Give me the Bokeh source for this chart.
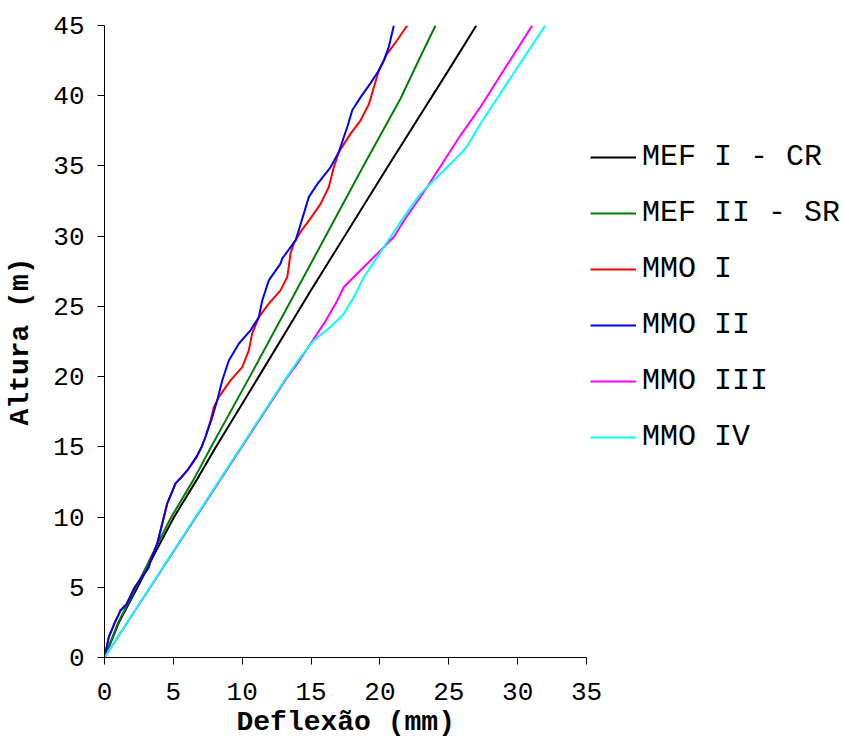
from bokeh.plotting import figure
from bokeh.models import Range1d, Legend, LegendItem, FixedTicker, Title
from bokeh.embed import file_html
from bokeh.resources import INLINE

# ---- data ----
x_ticks = [0, 5, 10, 15, 20, 25, 30, 35]
y_ticks = [0, 5, 10, 15, 20, 25, 30, 35, 40, 45]

mef1_y = [0, 2.5, 5, 7.5, 10, 12.7, 15, 20, 26.1, 29, 35, 42, 45]
mef1_x = [0, 1.05, 2.4, 3.7, 5.05, 6.73, 8.1, 11.2, 14.96, 16.8, 20.6, 25.1, 27.0]

mef2_y = [0, 2.5, 5, 7.5, 10, 12.7, 15, 20, 28, 35, 39.8, 42.6, 45]
mef2_x = [0, 1.0, 2.3, 3.55, 4.85, 6.49, 7.75, 10.55, 14.96, 18.8, 21.5, 22.85, 24.04]

mmo2_y = [0, 1.45, 2.6, 3.0, 3.35, 3.8, 5.0, 6.4, 6.9, 8.1, 10.95, 12.4, 12.8, 13.3,
          13.8, 14.3, 15.0, 15.7, 17.1, 18.3, 19.73, 21.15, 22.34, 23.29, 24.24, 25.4,
          26.85, 28.04, 28.4, 29.2, 29.7, 30.4, 31.6, 32.8, 33.7, 34.9, 36.0, 37.06,
          37.77, 38.96, 39.9, 40.9, 41.8, 42.5, 43.5, 45]
mmo2_x = [0, 0.31, 0.8, 1.0, 1.16, 1.6, 2.2, 3.2, 3.34, 3.83, 4.55, 5.16, 5.55, 6.0,
          6.35, 6.7, 7.05, 7.33, 7.82, 8.18, 8.55, 9.03, 9.75, 10.6, 11.21, 11.45,
          11.93, 12.78, 12.9, 13.5, 13.87, 14.1, 14.47, 14.84, 15.45, 16.41, 17.02, 17.38,
          17.63, 17.99, 18.6, 19.32, 19.92, 20.28, 20.65, 21.01]

mmo1_y = [0, 1.45, 2.6, 3.0, 3.35, 3.8, 5.0, 6.4, 6.9, 8.1, 10.95, 12.4, 12.8, 13.3,
          13.8, 14.3, 15.0, 15.7, 16.88, 17.83, 18.54, 19.73, 20.68, 21.87, 23.06,
          24.24, 25.2, 26.14, 27.09, 28.4, 28.75, 29.5, 30.3, 31.1, 32.3, 33.5, 34.9,
          36.0, 37.3, 38.25, 39.4, 40.6, 41.8, 43.0, 43.95, 45]
mmo1_x = [0, 0.31, 0.8, 1.0, 1.16, 1.6, 2.2, 3.2, 3.34, 3.83, 4.55, 5.16, 5.55, 6.0,
          6.35, 6.7, 7.05, 7.33, 7.7, 7.94, 8.3, 9.15, 10.0, 10.48, 10.72,
          11.21, 11.93, 12.78, 13.27, 13.46, 13.5, 13.75, 14.23, 14.84, 15.69, 16.29, 16.65,
          17.02, 17.87, 18.6, 19.2, 19.56, 19.92, 20.53, 21.25, 21.98]

mmo3_y = [0, 10, 19.85, 20.92, 22.34, 23.77, 25.19, 26.38, 27.09, 28.28, 29.22,
          29.94, 31.1, 33.5, 37.18, 39.2, 45]
mmo3_x = [0, 6.65, 13.2, 14.0, 14.96, 15.93, 16.78, 17.38, 18.1, 19.32, 20.28,
          21.01, 21.74, 23.43, 25.85, 27.3, 31.06]

mmo4_y = [0, 10, 19.85, 21.39, 22.58, 23.53, 24.48, 25.66, 27.09, 28.51, 29.94,
          31.37, 33.03, 33.74, 34.92, 35.88, 36.35, 38.0, 41.3, 45]
mmo4_x = [0, 6.6, 13.14, 14.23, 15.2, 16.41, 17.38, 18.1, 18.83, 19.8, 20.77,
          21.74, 22.95, 23.67, 24.89, 25.85, 26.3, 27.3, 29.5, 32.0]

series = [
    ("MEF I - CR", mef1_x, mef1_y, "#000000"),
    ("MEF II - SR", mef2_x, mef2_y, "#008000"),
    ("MMO I", mmo1_x, mmo1_y, "#FF0000"),
    ("MMO II", mmo2_x, mmo2_y, "#0000FF"),
    ("MMO III", mmo3_x, mmo3_y, "#FF00FF"),
    ("MMO IV", mmo4_x, mmo4_y, "#00FFFF"),
]

FONT = "Liberation Mono"
X_MIN, X_MAX = x_ticks[0], x_ticks[-1]
W, H = 843, 753
LEFT, TOP, BOTTOM = 104, 25, 96
FRAME_W = 482  # width of the 0..35 span
frame_total = W - LEFT
x_end = X_MAX * frame_total / FRAME_W  # extra room on the right holds the legend

p = figure(width=W, height=H, x_range=Range1d(X_MIN, x_end), y_range=Range1d(0, 45),
           output_backend="svg", toolbar_location=None,
           min_border_left=LEFT, min_border_right=0, min_border_top=TOP, min_border_bottom=BOTTOM)
p.outline_line_color = None
p.xgrid.visible = False
p.ygrid.visible = False
p.background_fill_color = "white"
p.border_fill_color = "white"

items = []
for name, xs, ys, col in series:
    r = p.line(xs, ys, line_color=col, line_width=2, line_join="round")
    items.append(LegendItem(label=name, renderers=[r]))

p.yaxis.axis_label = "Altura (m)"
p.xaxis.bounds = (X_MIN, X_MAX)

for ax, ticks, standoff, lstand in ((p.xaxis[0], x_ticks, 18, 9), (p.yaxis[0], y_ticks, 13, 14)):
    ax.ticker = FixedTicker(ticks=ticks)
    ax.minor_tick_line_color = None
    ax.major_tick_in = 0
    ax.major_tick_out = 7
    ax.major_tick_line_color = "black"
    ax.axis_line_color = "black"
    ax.major_label_text_font = FONT
    ax.major_label_text_font_size = "26px"
    ax.major_label_text_color = "black"
    ax.major_label_standoff = standoff
    ax.axis_label_text_font = FONT
    ax.axis_label_text_font_style = "bold"
    ax.axis_label_text_font_size = "28px"
    ax.axis_label_text_color = "black"
    ax.axis_label_standoff = lstand

# x-axis title, centred under the 0..35 span
xtitle = Title(text="Deflexão (mm)", align="left", offset=132,
               standoff=4, text_font=FONT, text_font_style="bold",
               text_font_size="28px", text_color="black")
p.add_layout(xtitle, "below")

legend = Legend(items=items, location=(486, 192))
legend.border_line_color = None
legend.background_fill_alpha = 0
legend.padding = 0
legend.margin = 0
legend.spacing = 0
legend.glyph_width = 46
legend.glyph_height = 56
legend.label_height = 56
legend.label_standoff = 6
legend.label_text_font = FONT
legend.label_text_font_size = "30px"
legend.label_text_color = "black"
p.add_layout(legend)

open("out.html", "w").write(file_html(p, INLINE))
